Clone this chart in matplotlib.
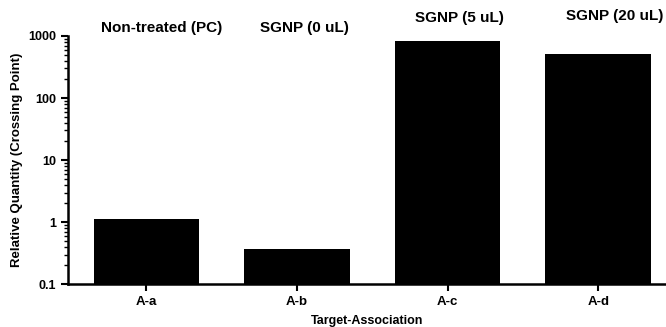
import matplotlib.pyplot as plt
from matplotlib.transforms import blended_transform_factory

targets = ["A-a", "A-b", "A-c", "A-d"]
groups = ["Non-treated (PC)", "SGNP (0 uL)", "SGNP (5 uL)", "SGNP (20 uL)"]
quantity = [1.12, 0.37, 830, 510]

plt.rcParams["font.family"] = ["Liberation Sans", "DejaVu Sans"]

fig = plt.figure(figsize=(6.66, 3.27), dpi=100)
ax = fig.add_axes([0.102, 0.131, 0.898, 0.759])

x = range(len(targets))
ax.bar(x, quantity, width=0.7, color="black")
ax.set_yscale("log")
ax.set_ylim(0.1, 1000)
ax.set_xlim(-0.52, 3.45)
ax.set_xticks(list(x))
ax.set_xticklabels(targets, fontsize=9.5, fontweight="bold")
ax.set_yticks([0.1, 1, 10, 100, 1000])
ax.set_yticklabels(["0.1", "1", "10", "100", "1000"], fontsize=9, fontweight="bold")

ax.spines["top"].set_visible(False)
ax.spines["right"].set_visible(False)
ax.spines["left"].set_linewidth(1.8)
ax.spines["bottom"].set_linewidth(1.8)
ax.tick_params(axis="y", which="major", length=5, width=1.5)
ax.tick_params(axis="y", which="minor", length=3, width=1)
ax.tick_params(axis="x", length=5, width=1.5)

ax.set_ylabel("Relative Quantity (Crossing Point)", fontsize=9.5, fontweight="bold")
ax.set_xlabel("Target-Association", fontsize=9, fontweight="bold", labelpad=5)

# group names sit above the plot area
trans = blended_transform_factory(ax.transData, fig.transFigure)
label_y = [0.914, 0.914, 0.945, 0.951]
label_dx = [0.1, 0.05, 0.08, 0.11]
for i, g in enumerate(groups):
    ax.text(i + label_dx[i], label_y[i], g, ha="center", va="center",
            fontsize=11, fontweight="bold", transform=trans, clip_on=False)

fig.savefig("out.png", dpi=100)
